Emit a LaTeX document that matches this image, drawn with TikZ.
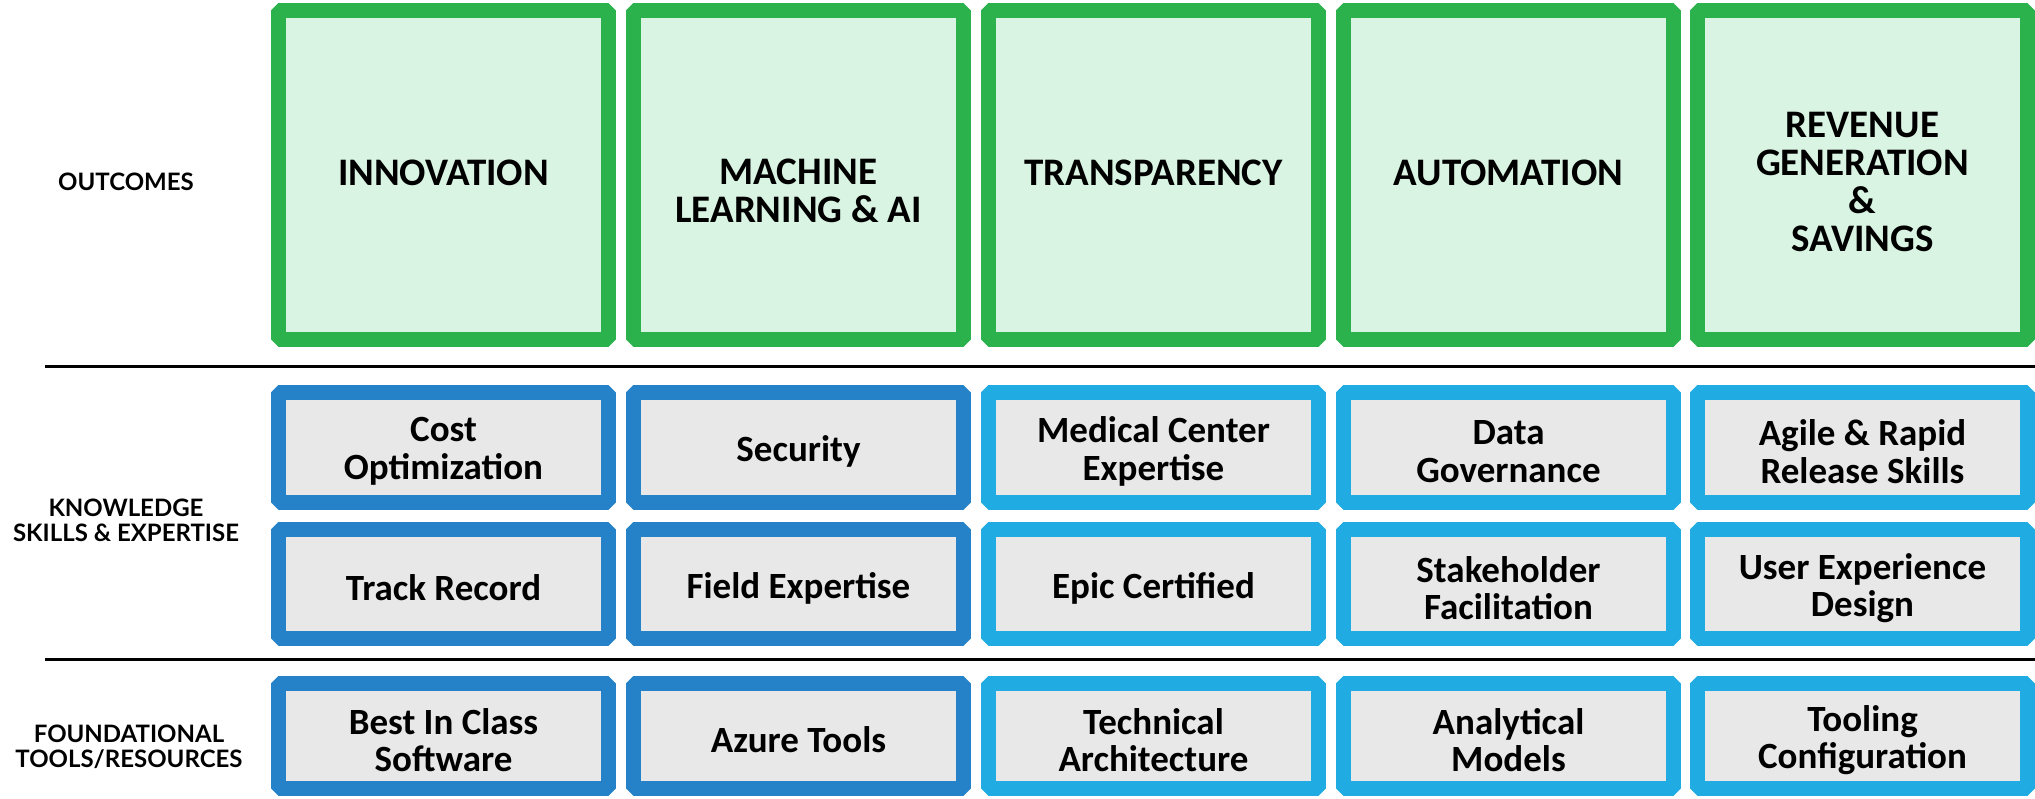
\documentclass[tikz,border=0pt]{standalone}
\usepackage{fontspec}
\setmainfont{Carlito}
\newfontfamily\latofont{Lato}
\usepackage{tikz}
\usepackage{xcolor}
\usetikzlibrary{
    calc,
    positioning
}

\definecolor{outgreen}{RGB}{43,178,76}
\definecolor{outfill}{RGB}{217,244,226}
\definecolor{darkblue}{RGB}{38,130,200}
\definecolor{lightblue}{RGB}{32,171,226}
\definecolor{boxfill}{RGB}{232,232,232}

\begin{document}
\begin{tikzpicture}[x=1pt, y=-1pt,
        cell/.style={draw, line width=15pt, line join=bevel, inner sep=0pt, outer sep=0pt,
            minimum width=330pt},
        outcome/.style={cell, draw=outgreen, fill=outfill, minimum height=329pt},
        darkcell/.style={cell, draw=darkblue, fill=boxfill},
        lightcell/.style={cell, draw=lightblue, fill=boxfill},
        outtext/.style={align=center, font=\bfseries\fontsize{39}{37.7}\selectfont},
        celltext/.style={align=center, yshift=-4pt, font=\bfseries\fontsize{37}{37.5}\selectfont},
        rowlabel/.style={align=center, font=\latofont\bfseries\fontsize{24}{25}\selectfont},
        rule/.style={line width=3pt}]
                        \useasboundingbox (0, 0) rectangle (2035, 798);

                        % row labels
                        \node[rowlabel] (lo) at (126, 182) {OUTCOMES};
                        \node[rowlabel] (lk) at (126, 520) {KNOWLEDGE\\SKILLS \& EXPERTISE};
                        \node[rowlabel] (lf) at (129, 747) {FOUNDATIONAL\\TOOLS/RESOURCES};

                        % outcomes
                        \node[outcome, label={[outtext, yshift=2pt]center:INNOVATION}] (no1) at (443.5, 175) {};
                        \node[outcome, label={[outtext, yshift=-16pt]center:MACHINE\\LEARNING \& AI}] (no2) at (798.5, 175) {};
                        \node[outcome, label={[outtext, yshift=2pt]center:TRANSPARENCY}] (no3) at (1153.5, 175) {};
                        \node[outcome, label={[outtext, yshift=2pt]center:AUTOMATION}] (no4) at (1508.5, 175) {};
                        \node[outcome, label={[outtext, yshift=-7pt]center:REVENUE\\GENERATION\\\&\\SAVINGS}] (no5) at (1862.5, 175) {};

                        \draw[rule] (45, 366) -- (2035, 366);

                        % knowledge, skills and expertise
                        \node[darkcell, minimum height=110pt, label={[celltext]center:Cost\\Optimization}] (nk1) at (443.5, 447.5) {};
                        \node[darkcell, minimum height=110pt, label={[celltext]center:Security}] (nk2) at (798.5, 447.5) {};
                        \node[lightcell, minimum height=110pt, label={[celltext]center:Medical Center\\Expertise}] (nk3) at (1153.5, 447.5) {};
                        \node[lightcell, minimum height=110pt, label={[celltext]center:Data\\Governance}] (nk4) at (1508.5, 447.5) {};
                        \node[lightcell, minimum height=110pt, label={[celltext]center:Agile \& Rapid\\Release Skills}] (nk5) at (1862.5, 447.5) {};

                        \node[darkcell, minimum height=109pt, label={[celltext]center:Track Record}] (ns1) at (443.5, 584) {};
                        \node[darkcell, minimum height=109pt, label={[celltext]center:Field Expertise}] (ns2) at (798.5, 584) {};
                        \node[lightcell, minimum height=109pt, label={[celltext]center:Epic Certified}] (ns3) at (1153.5, 584) {};
                        \node[lightcell, minimum height=109pt, label={[celltext]center:Stakeholder\\Facilitation}] (ns4) at (1508.5, 584) {};
                        \node[lightcell, minimum height=109pt, label={[celltext]center:User Experience\\Design}] (ns5) at (1862.5, 584) {};

                        \draw[rule] (45, 659) -- (2035, 659);

                        % foundational tools and resources
                        \node[darkcell, minimum height=105pt, label={[celltext]center:Best In Class\\Software}] (nf1) at (443.5, 736) {};
                        \node[darkcell, minimum height=105pt, label={[celltext]center:Azure Tools}] (nf2) at (798.5, 736) {};
                        \node[lightcell, minimum height=105pt, label={[celltext]center:Technical\\Architecture}] (nf3) at (1153.5, 736) {};
                        \node[lightcell, minimum height=105pt, label={[celltext]center:Analytical\\Models}] (nf4) at (1508.5, 736) {};
                        \node[lightcell, minimum height=105pt, label={[celltext]center:Tooling\\Configuration}] (nf5) at (1862.5, 736) {};
                    \end{tikzpicture}
\end{document}
